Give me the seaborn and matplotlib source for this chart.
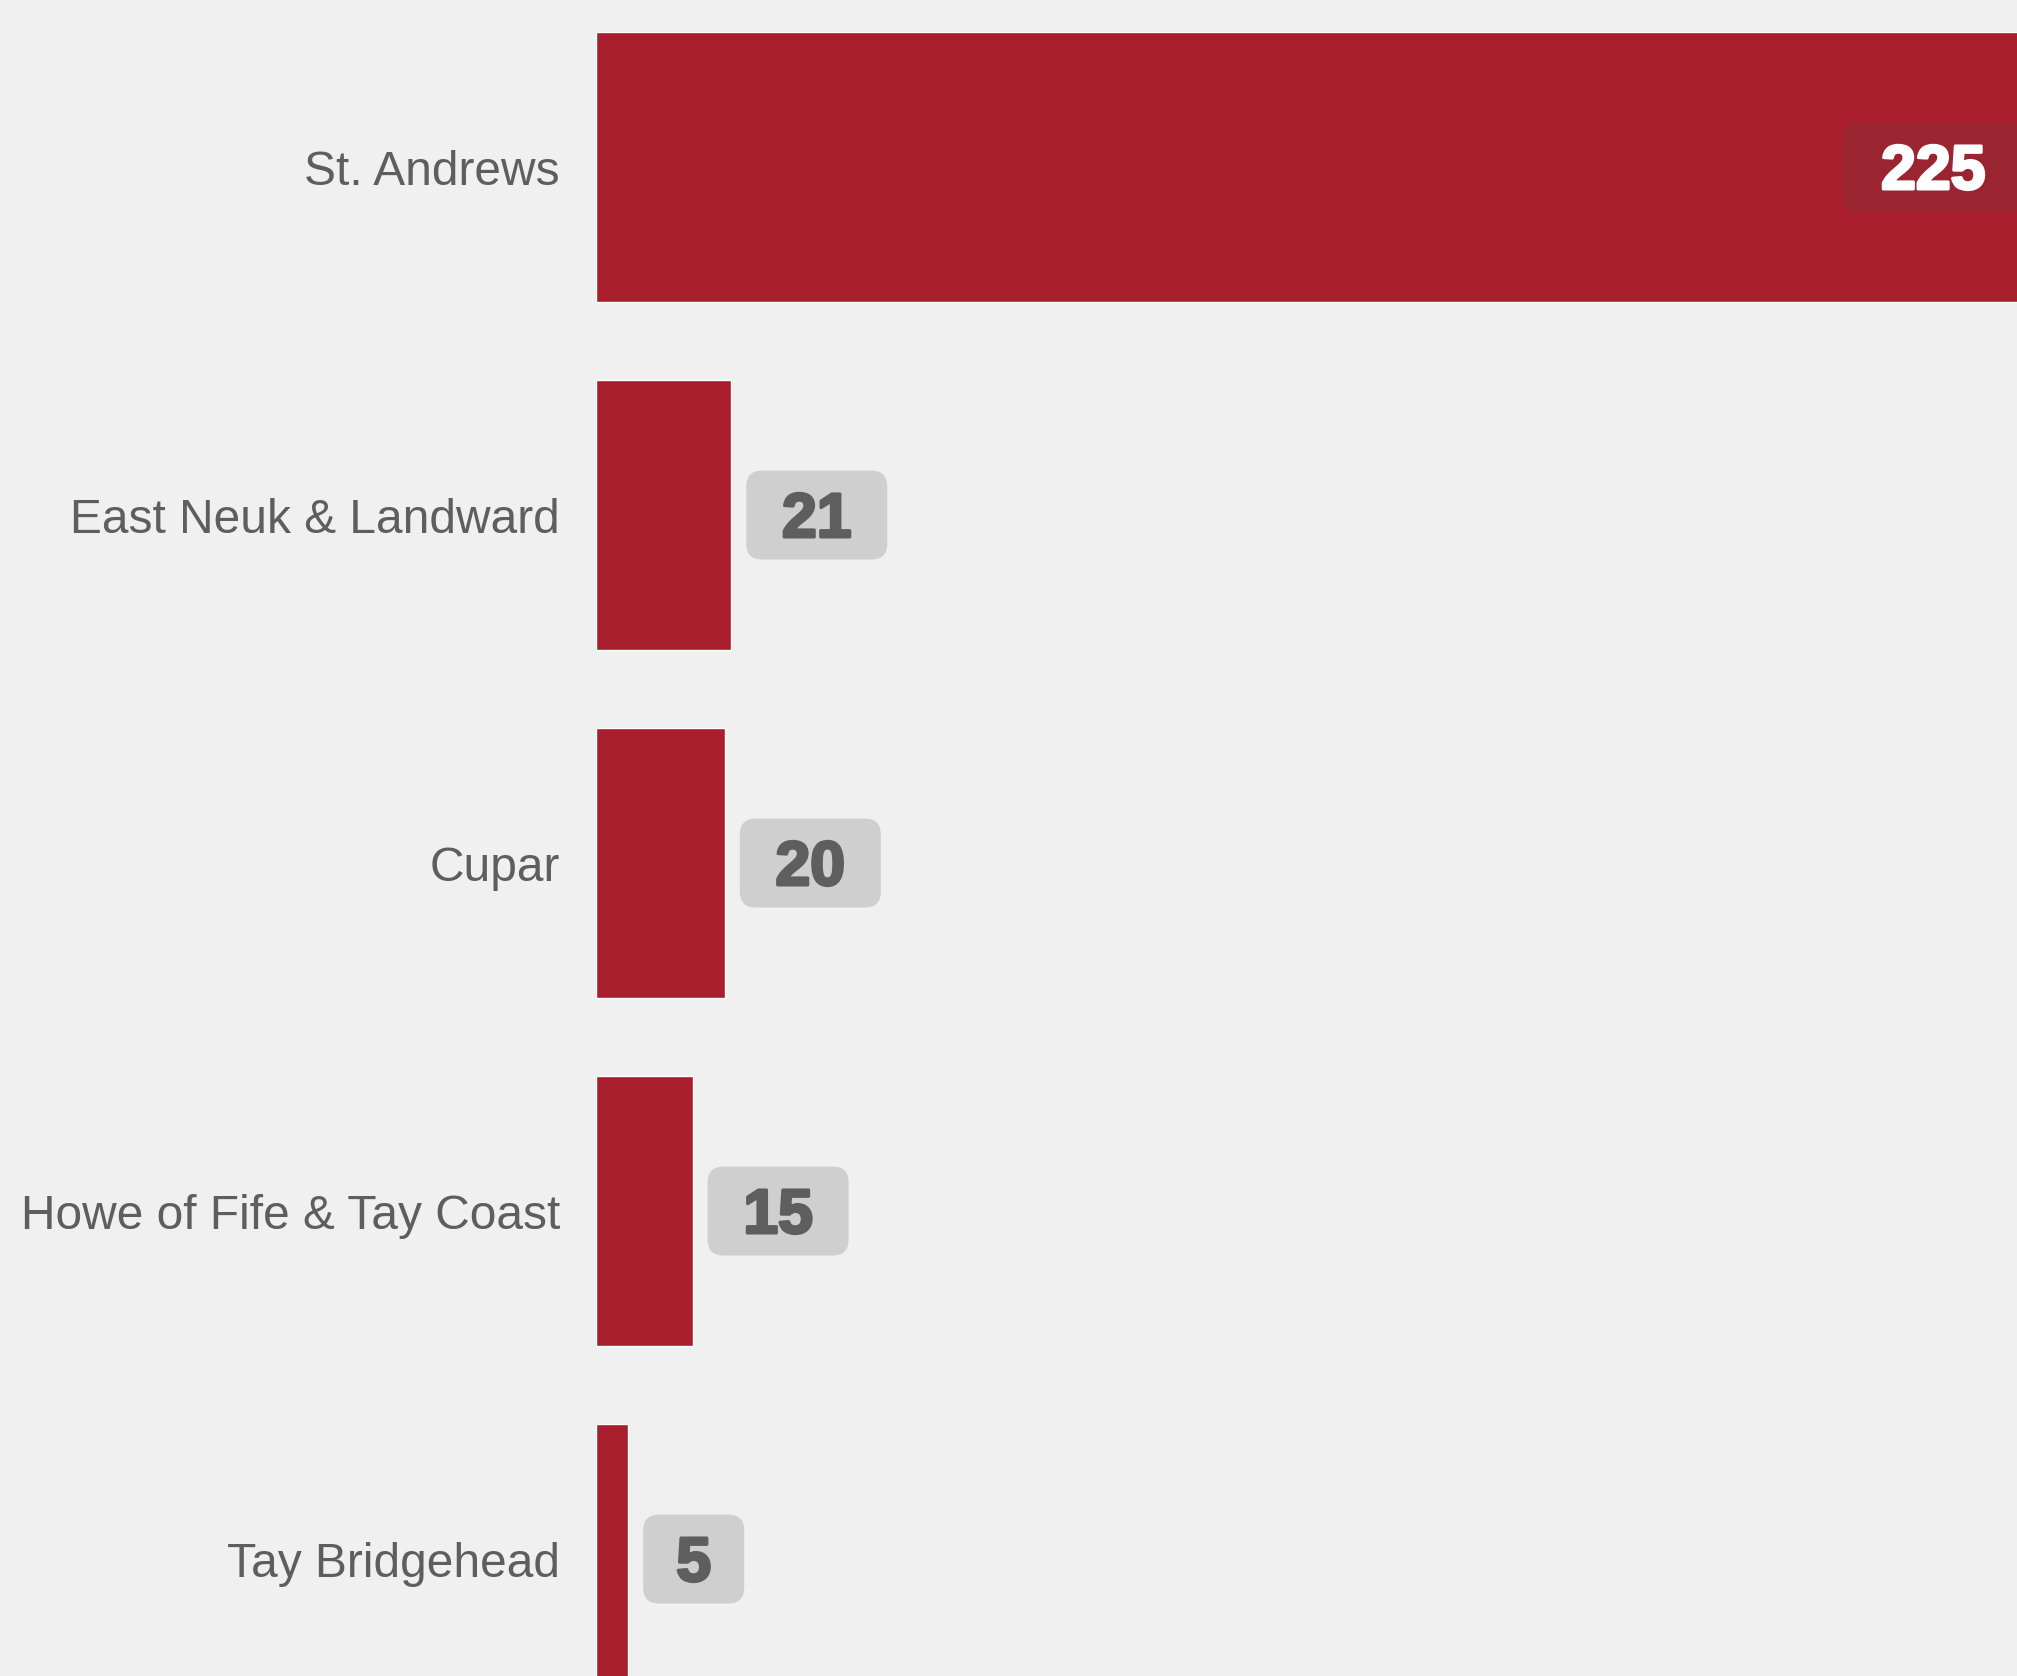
import matplotlib
matplotlib.use("Agg")
import matplotlib.pyplot as plt
import matplotlib.patheffects as pe
from matplotlib.patches import FancyBboxPatch
import seaborn as sns
import pandas as pd

# data
areas = ["St. Andrews", "East Neuk & Landward", "Cupar",
         "Howe of Fife & Tay Coast", "Tay Bridgehead"]
counts = [225, 21, 20, 15, 5]

BG = "#f0f0f0"
BAR = "#a81e2c"
BADGE = "#d0cfd0"
BADGE_DARK = "#9a2530"
TXT = "#5e5e5e"

sns.set_theme(style="white")
plt.rcParams["font.family"] = ["Liberation Sans", "DejaVu Sans"]

W, H = 2017, 1676
fig = plt.figure(figsize=(W / 100, H / 100), dpi=100, facecolor=BG)
ax = fig.add_axes([596 / W, 0, 1 - 596 / W, 1], facecolor=BG)

df = pd.DataFrame({"area": areas, "count": counts})
sns.barplot(data=df, x="count", y="area", orient="h", color=BAR,
            saturation=1, width=0.776, ax=ax)

px_per_unit = 6.44
slot_px = 348
ax.set_xlim(0, (W - 596) / px_per_unit)
ax.set_ylim(4.336, -0.48)

# value badges
xmax = ax.get_xlim()[1]
bh = 89 / slot_px
r = 16 / px_per_unit
asp = (16 / slot_px) / r
for i, v in enumerate(counts):
    s = str(v)
    bw = (61 + 40 * len(s)) / px_per_unit
    if v + 2.33 + bw > xmax:
        x0 = v - 3.3 - bw
        fc, tc = BADGE_DARK, "white"
    else:
        x0 = v + 2.33
        fc, tc = BADGE, TXT
    box = FancyBboxPatch((x0, i - bh / 2), bw, bh,
                         boxstyle=f"round,pad=0,rounding_size={r}",
                         mutation_aspect=asp, facecolor=fc, edgecolor="none")
    ax.add_patch(box)
    ax.text(x0 + bw / 2, i + 0.063, s, ha="center", va="baseline",
            fontsize=45, fontweight="bold", color=tc,
            path_effects=[pe.withStroke(linewidth=2.2, foreground=tc)])

for sp in ax.spines.values():
    sp.set_visible(False)
ax.set_xticks([])
ax.set_xlabel("")
ax.set_ylabel("")
ax.tick_params(axis="y", length=0, pad=26, labelsize=34.5, labelcolor=TXT)

fig.savefig("out.png", dpi=100, facecolor=BG)
